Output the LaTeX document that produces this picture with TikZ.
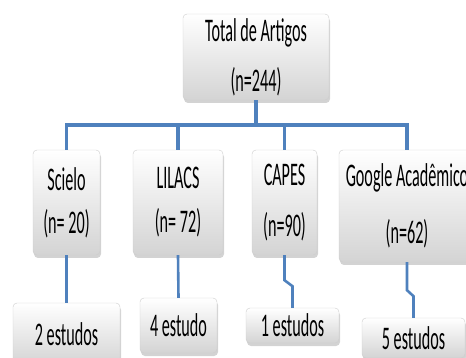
\documentclass[tikz,border=0pt]{standalone}
\usepackage{fontspec}
\setmainfont[FakeStretch=0.49]{Carlito}
\usetikzlibrary{shadows}
\definecolor{azul}{RGB}{79,129,189}
\definecolor{cinza}{RGB}{205,205,205}

\begin{document}
\begin{tikzpicture}
  [x=1pt, y=-1pt,
   caixa/.style={draw=cinza, rounded corners=4pt, top color=white, bottom color=black!17,
     drop shadow={shadow xshift=1pt, shadow yshift=-3pt, opacity=0.35},
     align=center, inner sep=0pt, font=\fontsize{33}{40}\selectfont},
   ligacao/.style={draw=azul, line width=3.4pt},
   ligacao2/.style={draw=azul, line width=2.6pt}]

  \clip (0,0) rectangle (466,358);

  % Raiz
  \node[caixa, minimum width=146pt, minimum height=86pt] (total) at (256,57) {Total de Artigos\\[10pt](n=244)};

  % Bases de dados
  \node[caixa, minimum width=67pt, minimum height=105pt] (scielo) at (66.5,202.5) {Scielo\\[3pt](n= 20)};
  \node[caixa, minimum width=90pt, minimum height=105pt] (lilacs) at (178,202.5) {LILACS\\[4pt](n= 72)};
  \node[caixa, minimum width=65pt, minimum height=105pt] (capes) at (284.5,202.5) {CAPES\\[11pt](n=90)};
  \node[caixa, minimum width=136pt, minimum height=112pt] (google) at (407,206) {Google Acadêmico\\[17pt](n=62)};

  % Estudos
  \node[caixa, minimum width=107pt, minimum height=62pt] (est2) at (66.5,334) {2 estudos};
  \node[caixa, minimum width=77pt, minimum height=55pt] (est4) at (178.5,325.5) {4 estudo};
  \node[caixa, minimum width=93pt, minimum height=35pt] (est1) at (292.5,325.5) {1 estudos};
  \node[caixa, minimum width=103pt, minimum height=40pt] (est5) at (413.5,338) {5 estudos};

  % Conectando a raiz com as bases
  \draw[ligacao] (total.south) -- ++(0,25) coordinate (barra);
  \foreach \base in {scielo,lilacs,capes,google}
    \draw[ligacao] (barra) -| (\base.north);

  % Conectando as bases com os estudos
  \draw[ligacao2] (scielo.south) -- (est2.north);
  \draw[ligacao2] (lilacs.south) -- (est4.north);
  \draw[ligacao2] (capes.south) -- ++(0,25) -- ++(8,6) -- (est1.north);
  \draw[ligacao2] (google.south) -- ++(0,28) -- ++(6.5,6) -- (est5.north);
\end{tikzpicture}
\end{document}
